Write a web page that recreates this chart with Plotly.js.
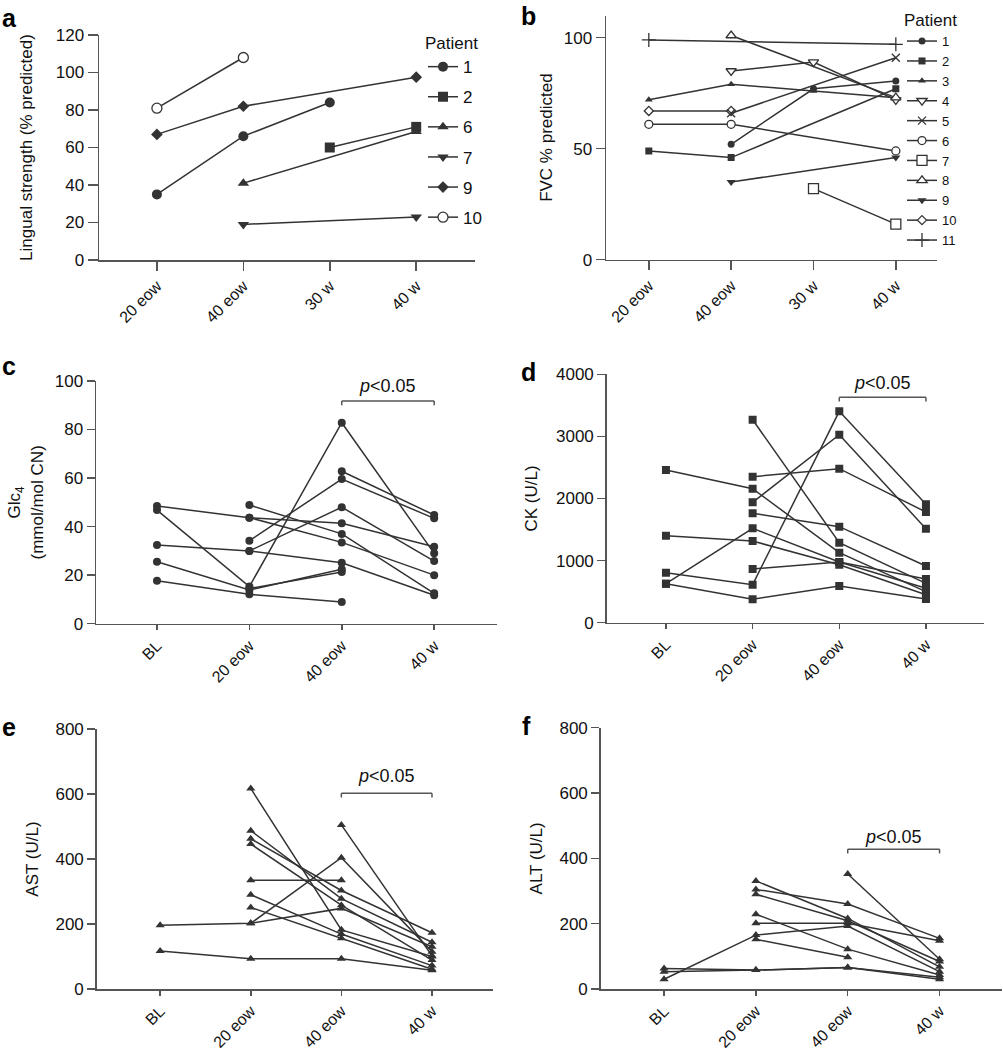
<!DOCTYPE html>
<html><head><meta charset="utf-8">
<script src="https://cdn.plot.ly/plotly-3.0.1.min.js"></script>
<style>html,body{margin:0;padding:0;background:#fff}</style>
</head><body><div id="chart" style="width:1003px;height:1050px"></div>
<script>
// ---------- data ----------
const catsAB = ['20 eow', '40 eow', '30 w', '40 w'];
const catsCF = ['BL', '20 eow', '40 eow', '40 w'];

// Panel a: lingual strength (% predicted)
const patientsA = ['1', '2', '6', '7', '9', '10'];
const lingualP1 = [35, 66, 84, null];
const lingualP2 = [null, null, 60, 71];
const lingualP6 = [null, 41, null, 68.5];
const lingualP7 = [null, 19, null, 23];
const lingualP9 = [67, 82, null, 97.5];
const lingualP10 = [81, 108, null, null];
const lingualA = [lingualP1, lingualP2, lingualP6, lingualP7, lingualP9, lingualP10];

// Panel b: FVC % predicted
const patientsB = ['1', '2', '3', '4', '5', '6', '7', '8', '9', '10', '11'];
const fvcB = [
  [null, 52, 77, 80.5],
  [49, 46, null, 77],
  [72, 79, 76, 73],
  [null, 85, 89, 72],
  [null, 66, null, 91],
  [61, 61, null, 49],
  [null, null, 32, 16],
  [null, 101, null, 73],
  [null, 35, null, 46],
  [67, 67, null, null],
  [99, null, null, 97]
];

// Panel c: Glc4 (mmol/mol CN)
const glcC = [
  [48.5, 43.7, 41.4, 31.7],
  [46.8, 15.3, 82.8, 29],
  [32.4, 30, 25.1, 11.7],
  [25.5, 13.9, 22.4, null],
  [17.7, 12.1, 8.9, null],
  [null, 48.9, 37, 12.5],
  [null, 34.2, 59.6, 43.4],
  [null, null, 62.8, 44.8],
  [null, 30, 48, 25.8],
  [null, 14.5, 21.3, null],
  [null, 43.7, 33.5, 20]
];

// Panel d: CK (U/L)
const ckD = [
  [2459, 2158, 1127, 500],
  [1401, 1315, 934, 450],
  [805, 612, 3404, 1906],
  [628, 1520, 977, 554],
  [628, 377, 591, 382],
  [null, 3269, 1288, 634],
  [null, 2351, 2480, 1782],
  [null, 1938, 3028, 1514],
  [null, 1761, 1546, 913],
  [null, 865, 977, 704]
];

// Panel e: AST (U/L)
const astE = [
  [196, 202, 404, 115],
  [117, 93, 93, 58],
  [null, 617, 182, 100],
  [null, 487, 278, 144],
  [null, 462, 303, 173],
  [null, 446, 258, 89],
  [null, 335, 335, null],
  [null, 290, 169, 72],
  [null, 251, 156, 61],
  [null, 202, 248, 130],
  [null, null, 505, 102]
];

// Panel f: ALT (U/L)
const altF = [
  [63, 58, 66, 36],
  [53, 58, 66, 30],
  [30, 165, 193, 53],
  [null, 152, 97, null],
  [null, 331, 216, 68],
  [null, 305, 260, 155],
  [null, 290, 209, 84],
  [null, 229, 122, 43],
  [null, 201, 201, 148],
  [null, null, 352, 91]
];

// significance brackets: [bracket top, bracket foot, label y]
const sigC = [91.8, 90, 98];
const sigD = [3630, 3560, 3865];
const sigE = [602, 589, 655];
const sigF = [428, 415, 466];
const sigLabel = '<i>p</i>&lt;0.05';

// ---------- styling ----------
const FONT = 'Liberation Sans, Arial, Helvetica, sans-serif';
const LINE = '#333333';
const AXC = '#555555';
const W = 1003, H = 1050;
const px = v => v / W;
const py = v => 1 - v / H;

const symA = ['circle', 'square', 'triangle-up', 'triangle-down', 'diamond', 'circle'];
const openA = [false, false, false, false, false, true];
const sizeA = [10, 10, 10, 10, 9, 10];

const symB = ['circle', 'square', 'triangle-up', 'triangle-down', 'x-thin-open', 'circle',
              'square', 'triangle-up', 'triangle-down', 'diamond', 'cross-thin-open'];
const openB = [false, false, false, true, true, true, true, true, false, true, true];
const sizeB = [7, 7, 7, 9, 8, 8, 10, 9, 8, 7, 10];
// drawing order for panel b (patient 5's cross sits on top of patient 10's diamond)
const drawOrderB = [0, 1, 2, 3, 5, 6, 7, 8, 9, 4, 10];

const traces = [];

function addSeries(vals, cats, xa, ya, opts) {
  const order = opts.order || vals.map((_, i) => i);
  order.forEach(i => {
    const ys = vals[i];
    const sym = opts.sym[i] || opts.sym[0];
    const open = opts.open ? opts.open[i] : false;
    const thin = sym.indexOf('thin') >= 0;
    const t = {
      type: 'scatter', mode: 'lines+markers',
      x: cats, y: ys, xaxis: xa, yaxis: ya,
      connectgaps: true,
      showlegend: !!opts.names,
      line: {color: LINE, width: 1.5},
      marker: {
        symbol: sym,
        size: opts.size ? opts.size[i] : opts.msize,
        color: thin ? LINE : (open ? '#ffffff' : LINE),
        line: {color: LINE, width: (open || thin) ? 1.3 : 0}
      },
      hoverinfo: 'x+y'
    };
    if (opts.names) {
      t.name = opts.names[i];
      t.legend = opts.legend;
      t.legendgroup = opts.legend + '_' + i;
      t.legendrank = 1000 + i;
    } else {
      t.name = 'series ' + (i + 1);
    }
    traces.push(t);
  });
}

addSeries(lingualA, catsAB, 'x', 'y', {sym: symA, open: openA, size: sizeA, names: patientsA, legend: 'legend'});
addSeries(fvcB, catsAB, 'x2', 'y2', {sym: symB, open: openB, size: sizeB, names: patientsB, legend: 'legend2', order: drawOrderB});
addSeries(glcC, catsCF, 'x3', 'y3', {sym: ['circle'], msize: 8});
addSeries(ckD, catsCF, 'x4', 'y4', {sym: ['square'], msize: 8});
addSeries(astE, catsCF, 'x5', 'y5', {sym: ['triangle-up'], msize: 8});
addSeries(altF, catsCF, 'x6', 'y6', {sym: ['triangle-up'], msize: 8});

function xAx(d0, d1, range, cats, anchor, tlen) {
  return {
    domain: [px(d0), px(d1)], range: range, anchor: anchor,
    type: 'category', categoryorder: 'array', categoryarray: cats,
    tickvals: cats, ticktext: cats, tickangle: -45,
    showline: true, linecolor: AXC, linewidth: 1.5,
    ticks: 'outside', ticklen: tlen, tickwidth: 1.5, tickcolor: AXC,
    showgrid: false, zeroline: false, automargin: false, fixedrange: true,
    tickfont: {family: FONT, size: 16, color: '#111'}
  };
}
function yAx(top, bottom, range, dtick, title, anchor, standoff, tlen) {
  return {
    domain: [py(bottom), py(top)], range: range, anchor: anchor,
    tick0: 0, dtick: dtick,
    showline: true, linecolor: AXC, linewidth: 1.5,
    ticks: 'outside', ticklen: tlen, tickwidth: 1.5, tickcolor: AXC,
    showgrid: false, zeroline: false, automargin: false, fixedrange: true,
    tickfont: {family: FONT, size: 17, color: '#111'},
    title: {text: title, font: {family: FONT, size: 17, color: '#111'}, standoff: standoff}
  };
}

const shapes = [];
const annotations = [];
function addSig(xa, ya, sig) {
  const ln = {color: AXC, width: 1.5};
  shapes.push({type: 'line', xref: xa, yref: ya, x0: 2, x1: 3, y0: sig[0], y1: sig[0], line: ln});
  shapes.push({type: 'line', xref: xa, yref: ya, x0: 2, x1: 2, y0: sig[1], y1: sig[0], line: ln});
  shapes.push({type: 'line', xref: xa, yref: ya, x0: 3, x1: 3, y0: sig[1], y1: sig[0], line: ln});
  annotations.push({xref: xa, yref: ya, x: 2.5, y: sig[2], text: sigLabel, showarrow: false,
    font: {family: FONT, size: 18, color: '#111'}});
}
addSig('x3', 'y3', sigC);
addSig('x4', 'y4', sigD);
addSig('x5', 'y5', sigE);
addSig('x6', 'y6', sigF);

const letters = [['a', 0, 2], ['b', 519, 0], ['c', 0, 350], ['d', 519, 356], ['e', 0, 711], ['f', 520, 710]];
letters.forEach(l => annotations.push({
  xref: 'paper', yref: 'paper', x: px(l[1]), y: py(l[2]), xanchor: 'left', yanchor: 'top',
  text: '<b>' + l[0] + '</b>', showarrow: false, font: {family: FONT, size: 25, color: '#000'}
}));

const layout = {
  width: W, height: H,
  margin: {l: 0, r: 0, t: 0, b: 0},
  paper_bgcolor: '#fff', plot_bgcolor: 'rgba(0,0,0,0)',
  font: {family: FONT, color: '#111'},
  xaxis: xAx(99, 475, [-0.67, 3.68], catsAB, 'y', 9),
  yaxis: yAx(35, 260, [0, 120], 20, 'Lingual strength (% predicted)', 'x', 19, 10),
  xaxis2: xAx(606, 937, [-0.52, 3.5], catsAB, 'y2', 9),
  yaxis2: yAx(15.5, 259.7, [0, 110], 50, 'FVC % predicted', 'x2', 7, 9),
  xaxis3: xAx(96, 497, [-0.66, 3.68], catsCF, 'y3', 5),
  yaxis3: yAx(381, 623.7, [0, 100], 20, 'Glc<sub>4</sub><br>(mmol/mol CN)', 'x3', 7, 8),
  xaxis4: xAx(606.7, 984, [-0.684, 3.67], catsCF, 'y4', 5),
  yaxis4: yAx(374.3, 622.7, [0, 4000], 1000, 'CK (U/L)', 'x4', 14, 8),
  xaxis5: xAx(96.7, 492.7, [-0.70, 3.67], catsCF, 'y5', 5),
  yaxis5: yAx(729, 989, [0, 800], 200, 'AST (U/L)', 'x5', 12, 8),
  xaxis6: xAx(600.7, 1002, [-0.69, 3.68], catsCF, 'y6', 5),
  yaxis6: yAx(727.7, 989, [0, 800], 200, 'ALT (U/L)', 'x6', 12, 8),
  legend: {
    x: px(423), xanchor: 'left', y: py(27), yanchor: 'top',
    font: {family: FONT, size: 17, color: '#111'},
    title: {text: 'Patient', side: 'top', font: {family: FONT, size: 17, color: '#111'}},
    traceorder: 'grouped', tracegroupgap: 5, bgcolor: 'rgba(0,0,0,0)', borderwidth: 0
  },
  legend2: {
    x: px(902), xanchor: 'left', y: py(4), yanchor: 'top',
    font: {family: FONT, size: 13, color: '#111'},
    title: {text: 'Patient', side: 'top', font: {family: FONT, size: 17, color: '#111'}},
    traceorder: 'normal', bgcolor: 'rgba(0,0,0,0)', borderwidth: 0
  },
  shapes: shapes,
  annotations: annotations,
  showlegend: true
};

Plotly.newPlot('chart', traces, layout, {displayModeBar: false, staticPlot: true});
</script>
</body></html>
